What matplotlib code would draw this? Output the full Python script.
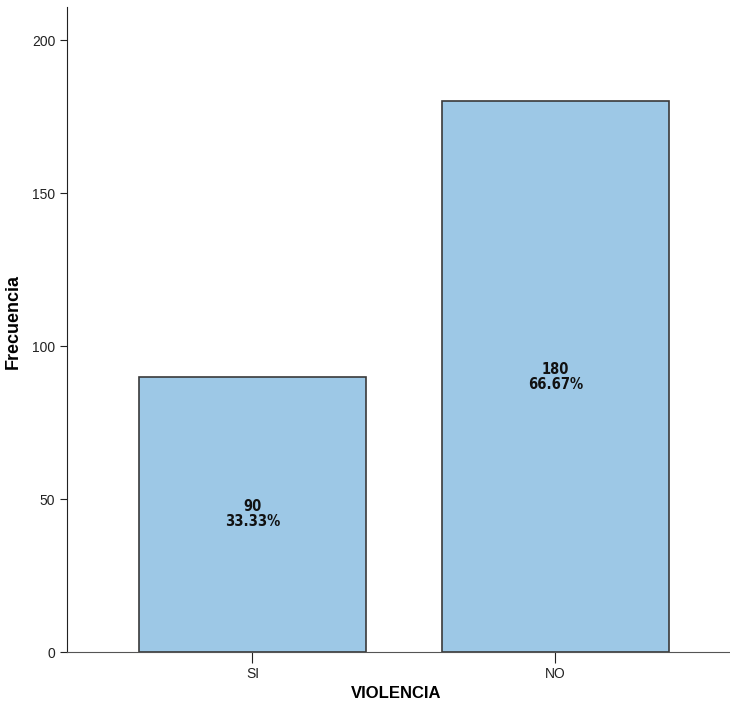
import matplotlib.pyplot as plt

# Frecuencias por categoría
categorias = ["SI", "NO"]
frecuencias = [90, 180]
porcentajes = [33.33, 66.67]

plt.rcParams["font.family"] = ["Liberation Sans", "DejaVu Sans"]

fig = plt.figure(figsize=(7.30, 7.15), dpi=100)
ax = fig.add_axes([0.0918, 0.0881, 0.9082, 0.9021])

x = range(len(categorias))
ax.bar(x, frecuencias, width=0.75, color="#9dc8e6", edgecolor="#3a3a3a", linewidth=1.2)

# frecuencia y porcentaje en el centro de cada barra
for xi, f, p in zip(x, frecuencias, porcentajes):
    ax.text(xi, f / 2, f"{f}\n{p:.2f}%", ha="center", va="center",
            fontsize=10.5, fontweight="bold", color="#111111", linespacing=1.0,
            family="DejaVu Sans", stretch="condensed")

ax.set_xlim(-0.612, 1.576)
ax.set_ylim(0, 210.8)
ax.set_yticks([0, 50, 100, 150, 200])
ax.set_xticks(list(x))
ax.set_xticklabels(categorias)

for s in ["top", "right"]:
    ax.spines[s].set_visible(False)
ax.spines["left"].set_color("#222222")
ax.spines["bottom"].set_color("#555555")
ax.tick_params(axis="y", length=5, labelsize=10, colors="#222222")
ax.tick_params(axis="x", length=8, labelsize=10, colors="#222222", pad=3)

ax.set_ylabel("Frecuencia", fontsize=13, fontweight="bold")
ax.yaxis.set_label_coords(-0.068, 0.512)
ax.set_xlabel("VIOLENCIA", fontsize=12, fontweight="bold")
ax.xaxis.set_label_coords(0.497, -0.052)

fig.savefig("out.png", dpi=100)
